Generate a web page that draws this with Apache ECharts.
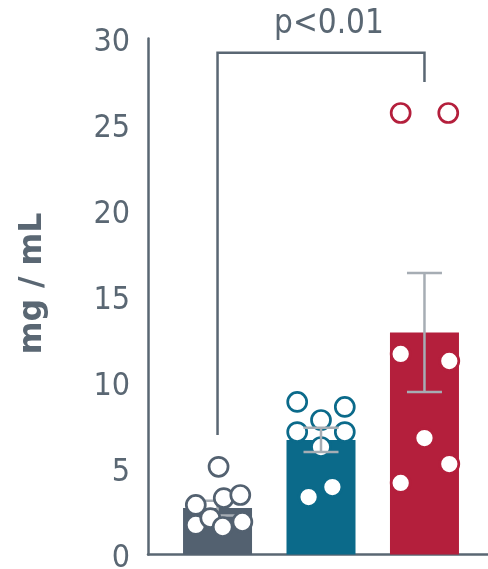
<!DOCTYPE html>
<html>
<head>
<meta charset="utf-8">
<script src="https://cdn.jsdelivr.net/npm/echarts@6/dist/echarts.min.js"></script>
<style>
  html, body { margin: 0; padding: 0; background: #ffffff; }
  #chart { width: 488px; height: 569px; }
</style>
</head>
<body>
<div id="chart"></div>
<script>
// Group means with error-bar limits (mg/mL)
const groups = ['Group A', 'Group B', 'Group C'];
const groupColors = ['#536170', '#0b6a8a', '#b41f3c'];
const means = [2.70, 6.66, 12.90];
const errLow = [2.27, 5.96, 9.45];
const errHigh = [3.13, 7.37, 16.37];

// Individual measurements per group, with horizontal spread (category units)
const valuesA = [5.10, 2.88, 3.28, 3.46, 1.72, 2.12, 1.60, 1.89];
const spreadA = [0.01, -0.21, 0.06, 0.22, -0.21, -0.07, 0.05, 0.24];
const valuesB = [8.87, 8.58, 7.82, 7.12, 7.12, 6.25, 3.34, 3.92];
const spreadB = [-0.23, 0.23, 0.0, -0.23, 0.23, 0.0, -0.12, 0.11];
const valuesC = [25.67, 25.67, 11.66, 11.25, 6.77, 5.26, 4.16];
const spreadC = [-0.23, 0.23, -0.23, 0.24, 0.0, 0.24, -0.23];

// Significance bracket between first and last group
const sigText = 'p<0.01';
const sigFrom = 0, sigTo = 2;
const sigTop = 29.17, sigFootFrom = 6.95, sigFootTo = 27.47;
const sigLabelX = 1.077, sigLabelY = 30.8;

const yTicks = [0, 5, 10, 15, 20, 25, 30];
const yTitle = 'mg / mL';

const axisColor = '#5a6773';
const errColor = '#a6adb4';
const FONT = '"DejaVu Sans Condensed", Tahoma, "Noto Sans", sans-serif';
const TITLE_FONT = '"DejaVu Sans", Verdana, sans-serif';

const chart = echarts.init(document.getElementById('chart'), null, { renderer: 'canvas' });

const pointSets = [[valuesA, spreadA], [valuesB, spreadB], [valuesC, spreadC]];

function pointSeries(gi, zv) {
  const [vals, spread] = pointSets[gi];
  return {
    type: 'scatter',
    z: zv,
    symbol: 'circle',
    symbolSize: 19,
    itemStyle: { color: '#ffffff', borderColor: groupColors[gi], borderWidth: 2.7, opacity: 1 },
    data: vals.map((v, i) => [gi + spread[i], v]),
    silent: true
  };
}

function errorSeries(idxList, zv) {
  return {
    type: 'custom',
    z: zv,
    silent: true,
    data: idxList.map(i => [i, errLow[i], errHigh[i]]),
    renderItem: function (params, api) {
      const x = api.value(0);
      const lo = api.coord([x, api.value(1)]);
      const hi = api.coord([x, api.value(2)]);
      const half = 17.5;
      const style = { stroke: errColor, lineWidth: 2.5 };
      return {
        type: 'group',
        children: [
          { type: 'line', shape: { x1: lo[0], y1: lo[1], x2: hi[0], y2: hi[1] }, style },
          { type: 'line', shape: { x1: hi[0] - half, y1: hi[1], x2: hi[0] + half, y2: hi[1] }, style },
          { type: 'line', shape: { x1: lo[0] - half, y1: lo[1], x2: lo[0] + half, y2: lo[1] }, style }
        ]
      };
    }
  };
}

const option = {
  animation: false,
  backgroundColor: '#ffffff',
  grid: { left: 148, right: 0, top: 38.5, bottom: 14.5, containLabel: false, outerBoundsMode: 'none' },
  graphic: [
    {
      type: 'text',
      x: 33, y: 283.5,
      rotation: Math.PI / 2,
      style: {
        text: yTitle, fill: axisColor, fontSize: 31.5, fontWeight: 'bold',
        fontFamily: TITLE_FONT, align: 'center', verticalAlign: 'middle'
      }
    }
  ],
  xAxis: {
    type: 'value',
    min: -0.672,
    max: 2.614,
    axisLine: { show: true, onZero: false, lineStyle: { color: axisColor, width: 2.5 } },
    axisTick: { show: false },
    axisLabel: { show: false },
    splitLine: { show: false }
  },
  yAxis: {
    type: 'value',
    min: 0,
    max: 30,
    interval: 5,
    axisLine: { show: true, onZero: false, lineStyle: { color: axisColor, width: 2.5 } },
    axisTick: { show: false },
    splitLine: { show: false },
    axisLabel: {
      margin: 18,
      formatter: v => (yTicks.indexOf(v) >= 0 ? '{t|' + v + '}' : ''),
      rich: {
        t: { color: axisColor, fontSize: 32, fontFamily: FONT, padding: [8, 0, 0, 0] }
      }
    }
  },
  series: [
    {
      type: 'bar',
      z: 2,
      barWidth: 69,
      silent: true,
      data: means.map((m, i) => ({ value: [i, m], itemStyle: { color: groupColors[i] } }))
    },
    errorSeries([0], 3),
    pointSeries(0, 4),
    pointSeries(1, 4),
    pointSeries(2, 4),
    errorSeries([1, 2], 5),
    {
      type: 'custom',
      z: 6,
      silent: true,
      clip: false,
      data: [[sigFrom, sigTo, sigTop, sigFootFrom, sigFootTo, sigLabelX, sigLabelY]],
      renderItem: function (params, api) {
        const a = api.value(0), b = api.value(1);
        const top = api.value(2);
        const pA = api.coord([a, api.value(3)]);
        const pB = api.coord([b, api.value(4)]);
        const tA = api.coord([a, top]);
        const tB = api.coord([b, top]);
        const lbl = api.coord([api.value(5), api.value(6)]);
        return {
          type: 'group',
          children: [
            {
              type: 'polyline',
              shape: { points: [pA, tA, tB, pB] },
              style: { stroke: axisColor, lineWidth: 2.5, fill: null }
            },
            {
              type: 'text',
              x: lbl[0], y: lbl[1],
              style: {
                text: sigText, fill: axisColor, fontSize: 33, fontFamily: FONT,
                align: 'center', verticalAlign: 'middle'
              }
            }
          ]
        };
      }
    }
  ]
};

chart.setOption(option);
</script>
</body>
</html>
